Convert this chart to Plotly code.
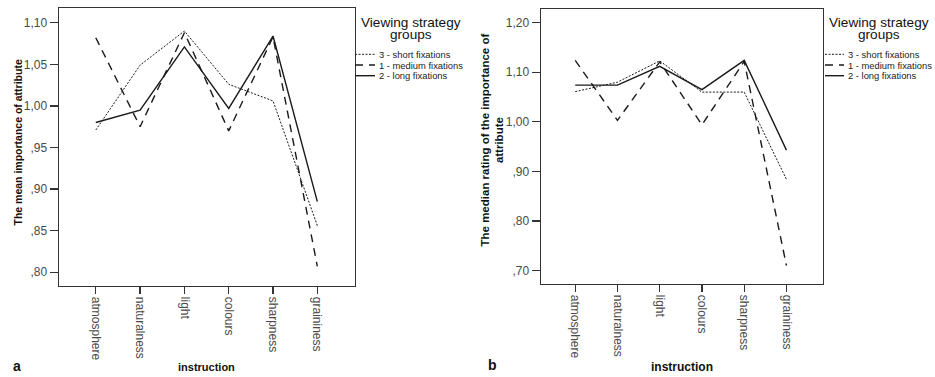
import plotly.graph_objects as go

W, H = 935, 377

categories = ["atmosphere", "naturalness", "light", "colours", "sharpness", "graininess"]
group_names = ["3 - short fixations", "1 - medium fixations", "2 - long fixations"]

mean_short = [0.971, 1.049, 1.090, 1.026, 1.006, 0.856]
mean_medium = [1.082, 0.975, 1.088, 0.970, 1.083, 0.807]
mean_long = [0.980, 0.995, 1.071, 0.997, 1.084, 0.885]

median_short = [1.061, 1.080, 1.123, 1.060, 1.060, 0.884]
median_medium = [1.124, 1.003, 1.121, 0.994, 1.122, 0.710]
median_long = [1.074, 1.074, 1.112, 1.065, 1.124, 0.943]

mean_tickvals = [0.80, 0.85, 0.90, 0.95, 1.00, 1.05, 1.10]
mean_ticktext = [",80", ",85", ",90", ",95", "1,00", "1,05", "1,10"]
median_tickvals = [0.70, 0.80, 0.90, 1.00, 1.10, 1.20]
median_ticktext = [",70", ",80", ",90", "1,00", "1,10", "1,20"]

LINE = "#1a1a1a"
styles = [
    dict(color=LINE, width=1.0, dash="2px,1.5px"),
    dict(color=LINE, width=1.4, dash="8px,6px"),
    dict(color=LINE, width=1.4, dash="solid"),
]

fig = go.Figure()
for name, vals, st in zip(group_names, [mean_short, mean_medium, mean_long], styles):
    fig.add_trace(go.Scatter(x=categories, y=vals, mode="lines", line=st, name=name,
                             showlegend=False, xaxis="x", yaxis="y"))
for name, vals, st in zip(group_names, [median_short, median_medium, median_long], styles):
    fig.add_trace(go.Scatter(x=categories, y=vals, mode="lines", line=st, name=name,
                             showlegend=False, xaxis="x2", yaxis="y2"))

def px(x):
    return x / W

def py(y):
    return 1 - y / H

tickfont = dict(family="Liberation Sans, Arial, sans-serif", size=12, color="#4a4a4a")
common_x = dict(type="category", showline=True, linecolor="#333", linewidth=1.4, mirror=True,
                ticks="outside", ticklen=7, tickcolor="#333", tickwidth=1.2, tickangle=90,
                tickfont=tickfont, showgrid=False, zeroline=False, fixedrange=True)
common_y = dict(showline=True, linecolor="#333", linewidth=1.4, mirror=True,
                ticks="outside", ticklen=8, tickcolor="#333", tickwidth=1.2,
                tickfont=tickfont, showgrid=False, zeroline=False, tickmode="array")

fig.update_layout(
    width=W, height=H,
    margin=dict(l=0, r=0, t=0, b=0),
    paper_bgcolor="white", plot_bgcolor="white",
    xaxis=dict(common_x, domain=[px(59), px(355)], range=[-0.83, 5.85], anchor="y"),
    yaxis=dict(common_y, domain=[py(286), py(8)], range=[0.7835, 1.1177],
               tickvals=mean_tickvals, ticktext=mean_ticktext, anchor="x"),
    xaxis2=dict(common_x, domain=[px(541), px(823)], range=[-0.81, 5.865], anchor="y2"),
    yaxis2=dict(common_y, domain=[py(284), py(9)], range=[0.673, 1.2276],
                tickvals=median_tickvals, ticktext=median_ticktext, anchor="x2"),
    showlegend=False,
)

ann = []
def text(x, y, t, size, bold=False, angle=0, anchor="center",
         family="Liberation Sans, Arial, sans-serif", color="#111"):
    ann.append(dict(xref="paper", yref="paper", x=px(x), y=py(y),
                    text=("<b>%s</b>" % t) if bold else t,
                    showarrow=False, xanchor=anchor, yanchor="middle", textangle=angle,
                    font=dict(family=family, size=size, color=color)))

# axis titles and panel letters
text(17.5, 143, "The mean importance of attribute", 10.5, bold=True, angle=-90)
text(491.5, 140, "The median rating of the importance of<br>attribute", 11.5, bold=True, angle=-90)
text(206.5, 367, "instruction", 11, bold=True)
text(682, 367, "instruction", 12, bold=True)
text(17, 366, "a", 14, bold=True)
text(492, 365, "b", 14, bold=True)

# legends
shapes = []
for (tx, lx0, lx1, txt_x) in [(410.5, 355, 375, 376.5), (879, 825, 844, 846)]:
    text(tx, 23, "Viewing strategy", 13.6)
    text(tx, 34.5, "groups", 13.6)
    for i, (name, st) in enumerate(zip(group_names, styles)):
        yy = 54.3 + i * 10.7
        shapes.append(dict(type="line", xref="paper", yref="paper", x0=px(lx0), x1=px(lx1),
                           y0=py(yy), y1=py(yy), line=st))
        text(txt_x, yy, name, 9.4, anchor="left", color="#222")

fig.update_layout(annotations=ann, shapes=shapes)
fig.write_html(
    "out.html",
    config={"displayModeBar": False, "staticPlot": True},
    post_script="document.body.style.margin='0';document.documentElement.style.overflow='hidden';",
)
